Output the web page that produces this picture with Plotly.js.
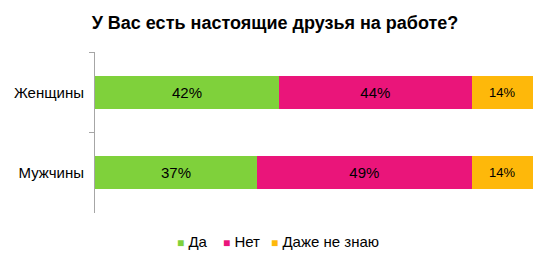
<!DOCTYPE html>
<html>
<head>
<meta charset="utf-8">
<script src="https://cdn.plot.ly/plotly-3.0.1.min.js"></script>
<style>html,body{margin:0;padding:0;background:#fff;}#chart{width:550px;height:265px;}</style>
</head>
<body>
<div id="chart"></div>
<script>
const categories = ['Женщины', 'Мужчины'];
const seriesNames = ['Да', 'Нет', 'Даже не знаю'];
const yesValues = [42, 37];
const noValues = [44, 49];
const dontKnowValues = [14, 14];
const colors = ['#7FD13B', '#EA157A', '#FEB80A'];
const font = '"Liberation Sans", Arial, sans-serif';

const valueSets = [yesValues, noValues, dontKnowValues];
const labelSizes = [15, 15, 13];

const traces = valueSets.map((vals, i) => ({
  type: 'bar',
  orientation: 'h',
  name: seriesNames[i],
  y: categories,
  x: vals,
  text: vals.map(v => v + '%'),
  textposition: 'inside',
  insidetextanchor: 'middle',
  constraintext: 'none',
  textfont: {family: font, size: labelSizes[i], color: '#000'},
  marker: {color: colors[i], line: {width: 0}},
  hoverinfo: 'skip',
  showlegend: false
}));

// legend drawn as text entries (square glyph + name)
const legendX = [0.183, 0.288, 0.398];
const legendAnnotations = seriesNames.map((n, i) => ({
  xref: 'paper', yref: 'paper',
  x: legendX[i], y: -0.18,
  xanchor: 'left', yanchor: 'middle',
  showarrow: false,
  text: '<span style="font-size:12px;color:' + colors[i] + '">■</span> ' + n,
  font: {family: font, size: 15, color: '#000'}
}));

const layout = {
  width: 550,
  height: 265,
  margin: {l: 95, r: 17, t: 52, b: 52},
  paper_bgcolor: '#fff',
  plot_bgcolor: '#fff',
  font: {family: font, size: 15, color: '#000'},
  barmode: 'stack',
  bargap: 0.59,
  showlegend: false,
  title: {
    text: '<b>У Вас есть настоящие друзья на работе?</b>',
    font: {family: font, size: 18, color: '#000'},
    x: 0.5, xref: 'container', xanchor: 'center',
    y: 1 - 23 / 265, yref: 'container', yanchor: 'middle'
  },
  xaxis: {
    range: [0, 100],
    visible: false,
    showgrid: false,
    zeroline: false,
    fixedrange: true
  },
  yaxis: {
    type: 'category',
    categoryorder: 'array',
    categoryarray: categories,
    autorange: 'reversed',
    showline: true,
    linecolor: '#a6a6a6',
    linewidth: 1,
    ticks: 'outside',
    tickson: 'boundaries',
    ticklen: 5,
    tickcolor: '#a6a6a6',
    tickwidth: 1,
    showgrid: false,
    zeroline: false,
    ticklabelstandoff: 7,
    tickfont: {family: font, size: 15, color: '#000'}
  },
  annotations: legendAnnotations
};

Plotly.newPlot('chart', traces, layout, {displayModeBar: false, staticPlot: true});
</script>
</body>
</html>
